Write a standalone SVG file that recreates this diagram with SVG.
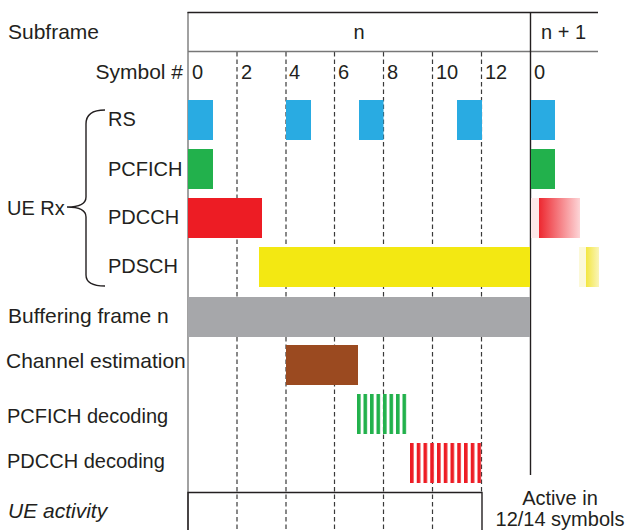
<svg xmlns="http://www.w3.org/2000/svg" width="630" height="530" viewBox="0 0 630 530">
<style>
text{font-family:"Liberation Sans",Arial,sans-serif;font-size:20px;fill:#231f20}
.big{font-size:21px}
.dash{stroke:#3a3a3a;stroke-width:1.2;stroke-dasharray:4.5 3}
.solid{stroke:#231f20;stroke-width:1.4;fill:none}
.rs{fill:#29abe2}.pcf{fill:#22b14c}.pdc{fill:#ed1c24}.pds{fill:#f3e812}
</style>
<defs>
<linearGradient id="gRed" x1="0" x2="1" y1="0" y2="0"><stop offset="0" stop-color="#ed2830"/><stop offset="1" stop-color="#fdd5d7"/></linearGradient>
<linearGradient id="gYel" x1="0" x2="1" y1="0" y2="0"><stop offset="0" stop-color="#f3e640"/><stop offset="1" stop-color="#faf5b8"/></linearGradient>
<pattern id="pGreen" patternUnits="userSpaceOnUse" x="357" y="0" width="6.5" height="10"><rect x="0" y="0" width="3.6" height="10" fill="#22b14c"/></pattern>
<pattern id="pRed" patternUnits="userSpaceOnUse" x="410" y="0" width="6.75" height="10"><rect x="0" y="0" width="3.6" height="10" fill="#ed1c24"/></pattern>
</defs>

<g id="grid">
<line class="dash" x1="237" y1="52" x2="237" y2="530"/>
<line class="dash" x1="286" y1="52" x2="286" y2="530"/>
<line class="dash" x1="334.5" y1="52" x2="334.5" y2="530"/>
<line class="dash" x1="383.5" y1="52" x2="383.5" y2="530"/>
<line class="dash" x1="432.5" y1="52" x2="432.5" y2="530"/>
<line class="dash" x1="481.5" y1="52" x2="481.5" y2="492"/>
<line x1="188" y1="12" x2="188" y2="530" stroke="#8a8a8a" stroke-width="1.6"/>
<line class="solid" x1="187.5" y1="12.5" x2="598" y2="12.5"/>
<line x1="188" y1="51.5" x2="598" y2="51.5" stroke="#777" stroke-width="1.4"/>
<line class="solid" x1="530.5" y1="12" x2="530.5" y2="475"/>
</g>

<g id="header">
<text class="big" x="8" y="39">Subframe</text>
<text x="359" y="39" text-anchor="middle">n</text>
<text x="541" y="39">n + 1</text>
<text class="big" x="183" y="79" text-anchor="end">Symbol #</text>
<text x="192" y="79">0</text>
<text x="241" y="79">2</text>
<text x="289" y="79">4</text>
<text x="338" y="79">6</text>
<text x="387" y="79">8</text>
<text x="436" y="79">10</text>
<text x="485" y="79">12</text>
<text x="534" y="79">0</text>
</g>

<g id="ue-rx">
<text x="7" y="215" font-size="19px">UE Rx</text>
<path class="solid" d="M105,110 C93,110 86,114 86,124 L86,197 C86,204 80,207 67,207 C80,207 86,210 86,217 L86,275 C86,283 93,286 105,286"/>
</g>

<g id="rs">
<text x="108" y="126">RS</text>
<rect class="rs" x="188" y="100" width="25" height="40"/>
<rect class="rs" x="286" y="100" width="25" height="40"/>
<rect class="rs" x="359" y="100" width="24.5" height="40"/>
<rect class="rs" x="457" y="100" width="25" height="40"/>
<rect class="rs" x="531" y="100" width="24" height="40"/>
</g>

<g id="pcfich">
<text x="108" y="176">PCFICH</text>
<rect class="pcf" x="188" y="149" width="25" height="40"/>
<rect class="pcf" x="531" y="149" width="24" height="40"/>
</g>

<g id="pdcch">
<text x="108" y="224">PDCCH</text>
<rect class="pdc" x="188" y="198" width="74" height="40"/>
<rect x="531" y="198" width="8" height="40" fill="#fde8e9"/>
<rect x="539" y="198" width="41" height="40" fill="url(#gRed)"/>
</g>

<g id="pdsch">
<text x="108" y="273">PDSCH</text>
<rect class="pds" x="259" y="247" width="271" height="40"/>
<rect x="579" y="247" width="7" height="40" fill="#fcf9d8"/>
<rect x="586" y="247" width="13" height="40" fill="url(#gYel)"/>
</g>

<g id="buffering">
<text class="big" x="8" y="323">Buffering frame n</text>
<rect x="188" y="297" width="342" height="40" fill="#a6a7aa"/>
</g>

<g id="channel-estimation">
<text class="big" x="6" y="368">Channel estimation</text>
<rect x="286" y="345" width="72" height="40" fill="#9b4a20"/>
</g>

<g id="pcfich-decoding">
<text x="7" y="423">PCFICH decoding</text>
<rect x="357" y="394" width="50" height="40" fill="url(#pGreen)"/>
</g>

<g id="pdcch-decoding">
<text x="7" y="468">PDCCH decoding</text>
<rect x="410" y="443" width="71.5" height="40" fill="url(#pRed)"/>
</g>

<g id="ue-activity">
<text class="big" x="8" y="518" font-style="italic">UE activity</text>
<path class="solid" d="M188,531 L188,492.5 L482,492.5 L482,531"/>
<text x="560" y="505" text-anchor="middle">Active in</text>
<text x="560" y="526" text-anchor="middle">12/14 symbols</text>
</g>
</svg>
